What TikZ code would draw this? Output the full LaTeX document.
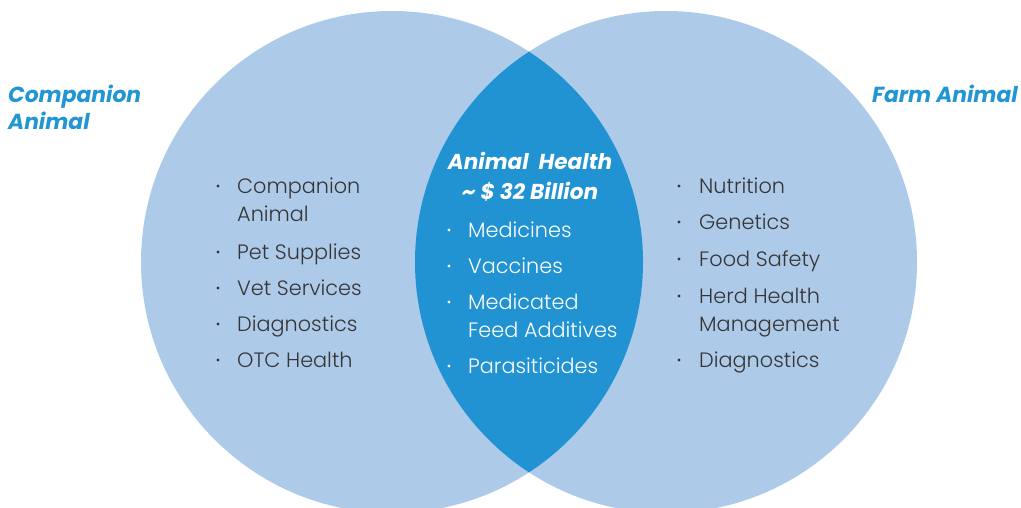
\documentclass[tikz,border=0pt]{standalone}
\usepackage{fontspec}
\setmainfont{Poppins}
\newfontfamily\bodyfont{Poppins Light}
\newfontfamily\headfont{Poppins}[BoldItalicFont={* Bold Italic}]
\definecolor{lightc}{HTML}{ADCBE9}
\definecolor{lensc}{HTML}{2193D2}
\definecolor{headc}{HTML}{2196D3}
\definecolor{txtc}{HTML}{353535}
\tikzset{
  item/.style={anchor=base west, inner sep=0pt, font=\bodyfont\fontsize{20.8}{28}\selectfont, text=txtc},
  itemw/.style={item, text=white},
  bul/.style={circle, fill=txtc, inner sep=0pt, minimum size=3.4pt},
  bulw/.style={bul, fill=white},
  head/.style={inner sep=0pt, font=\headfont\bfseries\itshape\fontsize{21.8}{27}\selectfont, text=headc},
  title/.style={anchor=base, inner sep=0pt, font=\headfont\bfseries\itshape\fontsize{21.6}{27}\selectfont, text=white}
}
\begin{document}
\begin{tikzpicture}[x=1pt,y=-1pt]
\useasboundingbox (0,0) rectangle (1021,507);
\begin{scope}
\clip (0,0) rectangle (1021,507);
\fill[lightc] (392,262) circle (251);
\fill[lightc] (666,262) circle (251);
\begin{scope}
\clip (392,262) circle (251);
\fill[lensc] (666,262) circle (251);
\end{scope}
\end{scope}
% headings
\node[head, anchor=base west] (h1) at (8,102) {Companion};
\node[head, anchor=base west] (h2) at (8,129) {Animal};
\node[head, anchor=base east] (h3) at (1018,102) {Farm Animal};
% left list
\node[item] (l1) at (237,193) {Companion};
\node[item] (l1b) at (237,221) {Animal};
\node[item] (l2) at (237,259) {Pet Supplies};
\node[item] (l3) at (237,295) {Vet Services};
\node[item] (l4) at (237,331) {Diagnostics};
\node[item] (l5) at (237,367) {OTC Health};
\foreach \y in {186,252,288,324,360} \node[bul] at (218,\y) {};
% center
\node[title] (t1) at (530,169) {Animal\ \ Health};
\node[title] (t2) at (530,199) {\char`\~\ \$ 32 Billion};
\node[itemw] (c1) at (468,237) {Medicines};
\node[itemw] (c2) at (468,273) {Vaccines};
\node[itemw] (c3) at (468,309) {Medicated};
\node[itemw] (c3b) at (468,337) {Feed Additives};
\node[itemw] (c4) at (468,373) {Parasiticides};
\foreach \y in {230,266,302,366} \node[bulw] at (449,\y) {};
% right list
\node[item] (r1) at (699,193) {Nutrition};
\node[item] (r2) at (699,229) {Genetics};
\node[item] (r3) at (699,266) {Food Safety};
\node[item] (r4) at (699,303) {Herd Health};
\node[item] (r4b) at (699,331) {Management};
\node[item] (r5) at (699,367) {Diagnostics};
\foreach \y in {186,222,259,296,360} \node[bul] at (679,\y) {};
\end{tikzpicture}
\end{document}
